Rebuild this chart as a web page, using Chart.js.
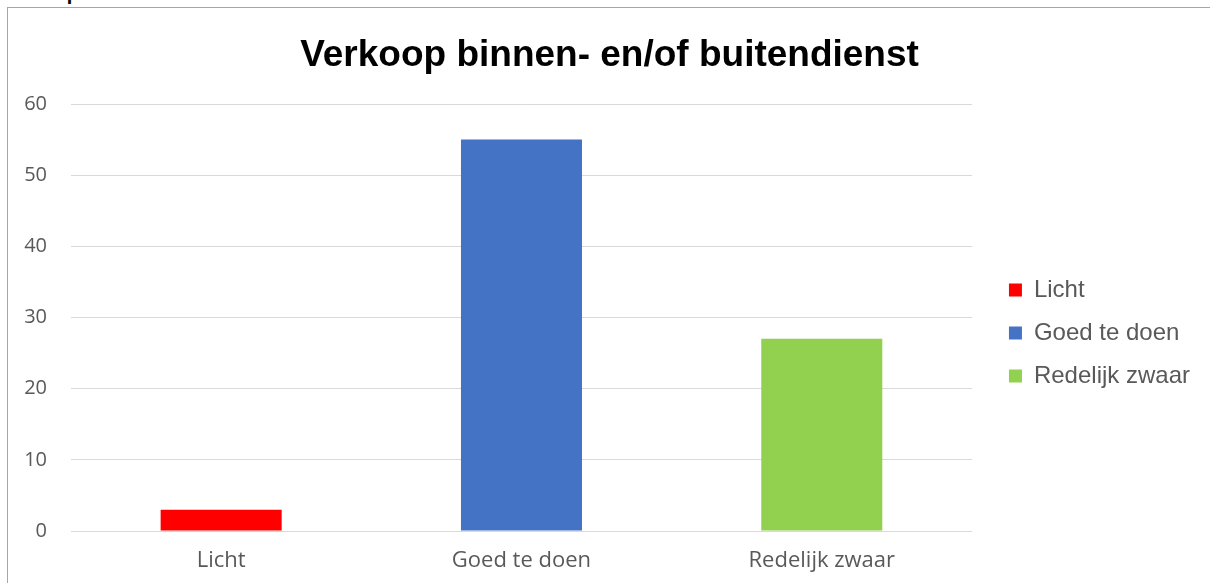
<!DOCTYPE html>
<html>
<head>
<meta charset="utf-8">
<script src="https://cdn.jsdelivr.net/npm/chart.js@4.4.1/dist/chart.umd.min.js"></script>
<style>
  html, body { margin: 0; padding: 0; background: #fff; overflow: hidden; }
  body { width: 1210px; height: 583px; position: relative; }
  #cut { position: absolute; left: 0; top: -17px; font: bold 20px/20px "Liberation Sans", Arial, sans-serif; color: #000; white-space: nowrap; }
  #frame { position: absolute; left: 7px; top: 7px; width: 1203px; height: 576px; border-left: 1px solid #a6a6a6; border-top: 1px solid #a6a6a6; background: #fff; }
  #wrap { position: absolute; left: 0; top: 0; width: 1203px; height: 576px; }
</style>
</head>
<body>
<div id="cut">Verkoop binnen- en/of buitendienst</div>
<div id="frame"><div id="wrap"><canvas id="c" width="1203" height="576"></canvas></div></div>
<script>
const titleText = 'Verkoop binnen- en/of buitendienst';
const categories = ['Licht', 'Goed te doen', 'Redelijk zwaar'];
const values = [3, 55, 27];
const barColors = ['#ff0000', '#4472c4', '#92d050'];
const yTicks = [0, 10, 20, 30, 40, 50, 60];

const layoutTweak = {
  id: 'layoutTweak',
  afterLayout(chart) {
    const lg = chart.legend;
    if (lg) {
      const dx = (chart.chartArea.right + 37) - (lg.left + 19);
      lg.left += dx; lg.right += dx;
      lg.top += 37; lg.bottom += 37;
    }
    const tb = chart.titleBlock;
    if (tb) { tb.left += 14.5; tb.right += 14.5; }
  }
};

new Chart(document.getElementById('c'), {
  type: 'bar',
  data: {
    labels: categories,
    datasets: [{
      data: values,
      backgroundColor: barColors,
      borderWidth: 0,
      categoryPercentage: 1,
      barPercentage: 0.403
    }]
  },
  plugins: [layoutTweak],
  options: {
    responsive: false,
    animation: false,
    devicePixelRatio: 1,
    layout: { padding: { left: 0, right: 29, top: 0, bottom: 0 } },
    plugins: {
      title: {
        display: true,
        text: titleText,
        color: '#000000',
        font: { family: '"Liberation Sans", Arial, sans-serif', size: 37, weight: 'bold' },
        padding: { top: 26, bottom: 25.6 }
      },
      legend: {
        position: 'right',
        align: 'center',
        labels: {
          color: '#595959',
          font: { family: '"Liberation Sans", Arial, sans-serif', size: 24 },
          boxWidth: 13,
          boxHeight: 13,
          padding: 19,
          generateLabels() {
            return categories.map((c, i) => ({
              text: c, fillStyle: barColors[i], strokeStyle: barColors[i], lineWidth: 0, hidden: false, index: i, fontColor: '#595959'
            }));
          }
        }
      },
      tooltip: { enabled: false }
    },
    scales: {
      x: {
        afterFit(s) { s.height = 53; },
        grid: { display: false },
        border: { display: false },
        ticks: {
          color: '#595959',
          font: { family: '"Open Sans", sans-serif', size: 22 },
          padding: 9
        }
      },
      y: {
        min: 0,
        max: 60,
        afterFit(s) { s.width = 63; },
        afterBuildTicks(s) { s.ticks = yTicks.map(v => ({ value: v })); },
        grid: { color: '#d9d9d9', lineWidth: 1, drawTicks: false },
        border: { display: false },
        ticks: {
          color: '#595959',
          font: { family: '"Open Sans", sans-serif', size: 20 },
          padding: 24
        }
      }
    }
  }
});
</script>
</body>
</html>
